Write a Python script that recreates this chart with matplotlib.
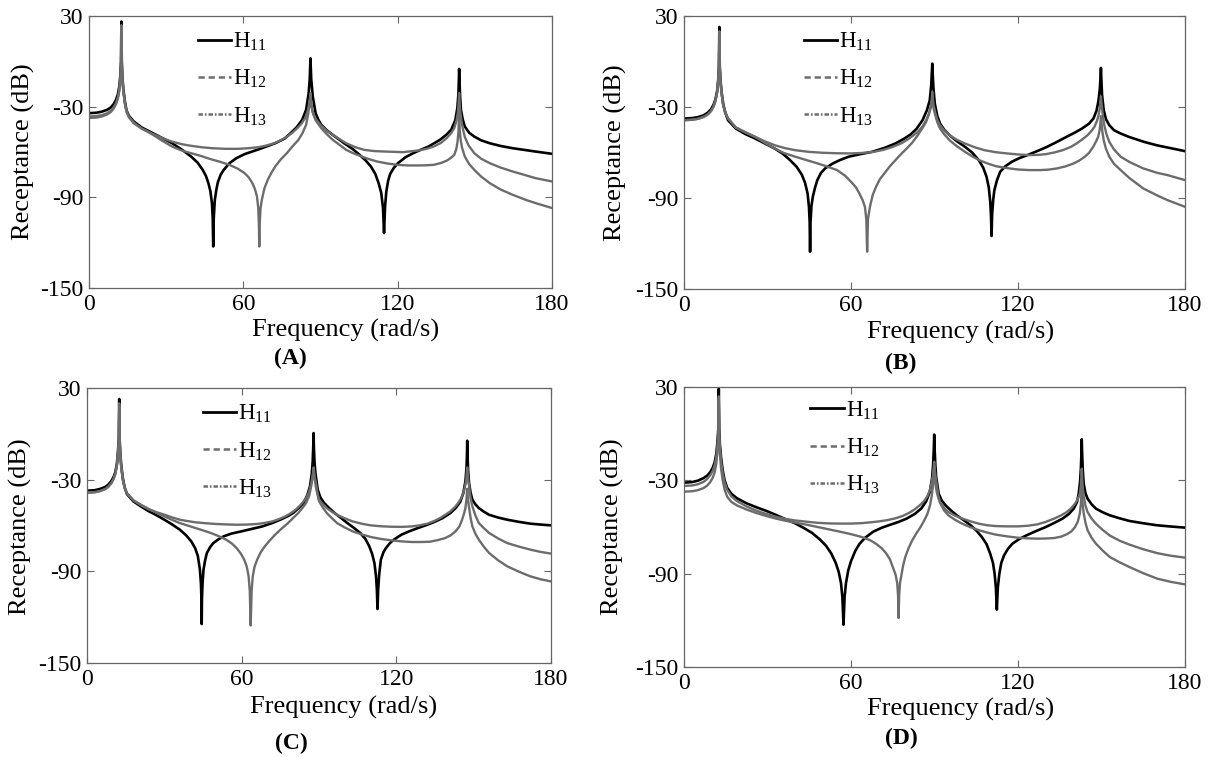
import matplotlib
matplotlib.use("Agg")
import matplotlib.pyplot as plt
from matplotlib.lines import Line2D

plt.rcParams['font.family'] = ['Liberation Serif', 'DejaVu Serif']
plt.rcParams['mathtext.fontset'] = 'custom'
plt.rcParams['mathtext.rm'] = 'Liberation Serif'
plt.rcParams['mathtext.it'] = 'Liberation Serif:italic'
plt.rcParams['axes.unicode_minus'] = False
plt.rcParams['lines.scale_dashes'] = False

# ======================= data =======================
# ---------- Panel A ----------
fA_h11 = [0, 3, 5, 7, 8.5, 9.6, 10.5, 11.2, 11.8, 12.2, 12.45, 12.6, 12.75, 13.0, 13.4, 14.0, 14.6, 15.5, 17.4, 20.5,
          24.8, 28.5, 32.3, 36, 39.7, 42.2, 44.2, 45.5, 46.4, 47.2, 47.8, 48.1, 48.3, 48.5, 48.9, 49.5, 50.1, 51.2, 52.4,
          54.6, 57.2, 60.5, 66.5, 72.4, 76, 78.4, 80.8, 82.9, 84.4, 85.4, 85.8, 86.0, 86.1, 86.2, 86.4, 87.0, 88.1, 89.2,
          90.3, 92.5, 94.8, 99.2, 102.5, 105.2, 107.5, 109.6, 111.3, 112.6, 113.6, 114.3, 114.7, 115.1, 115.6, 116.3,
          117.1, 118.5, 120.1, 123, 126, 129, 132, 136.4, 139, 140.8, 142.4, 143.2, 143.6, 143.8, 143.9, 144.05, 144.3,
          144.6, 145.3, 146.1, 147.8, 149.8, 152.5, 155.8, 160, 164.7, 170, 173.6, 180]
dA_h11 = [-34.3, -34.0, -33.3, -32.1, -30.5, -28.3, -25.5, -22, -16.5, -9, 0, 26.3, 0, -11, -19, -27, -32.5, -36, -39.8, -43.8,
          -47.5, -50.8, -54.2, -58.3, -63, -67, -71.8, -76, -80.5, -86, -94, -104, -122.5, -104, -92, -85, -80, -75, -71.8,
          -67.4, -64.2, -61.4, -57.9, -54.2, -51.2, -47.5, -43.5, -38.7, -32.1, -21.1, -12, -3, 2.0, -3, -12, -23.3, -34.3, -38.8,
          -42, -45.7, -48.7, -54.2, -58, -61.9, -65.5, -69.6, -74.5, -80.6, -87, -97, -113.6, -96, -86, -79,
          -74.5, -70.5, -67.4, -63.5, -60.8, -58.5, -56.4, -52, -48.5, -45.3, -39, -31, -22, -12, -5.0, -14, -24,
          -32.1, -38.5, -43.1, -47.3, -49.8, -52.3, -54.2, -56, -57.5, -58.8, -59.7, -61.2]

fA_h12 = [0, 3, 5, 7, 8.5, 9.6, 10.5, 11.2, 11.8, 12.2, 12.45, 12.6, 12.75, 13.0, 13.4, 14.0, 14.6, 15.5, 17.4, 20.5,
          24.8, 28.5, 32.3, 36, 39.7, 43.5, 47.2, 51, 54.6, 57.8, 60.5, 62.2, 63.5, 64.5, 65.3, 65.8, 66.05, 66.2, 66.35,
          66.7, 67.2, 68.2, 69.5, 71, 72.4, 74.5, 76.9, 79, 81.4, 83, 84.4, 85.2, 85.7, 86.0, 86.1, 86.2, 86.5, 87.0, 88.1,
          90.3, 92.5, 94.8, 97.5, 100, 103.5, 107, 111, 115, 122, 128, 131, 134, 136.8, 139, 140.8, 142, 142.9, 143.4,
          143.7, 143.9, 144.1, 144.4, 144.8, 145.4, 146.1, 147.5, 149.8, 152.5, 155.8, 160, 164.7, 170, 173.6, 180]
dA_h12 = [-36.5, -36.2, -35.6, -34.4, -32.7, -30.4, -27.5, -24, -18.5, -11, -2, 24, -2, -12, -20, -28, -33, -36.5, -40.5, -44.5,
          -48.5, -52.6, -56.4, -59, -60.8, -62.6, -64.7, -66.5, -68.5, -71, -74, -77, -80.6, -84.5, -89.4, -97, -108, -122.5, -108,
          -97, -91.6, -84, -78.4, -73.5, -69.6, -65, -60.8, -56.5, -52, -47.5, -42, -35, -28, -24, -21, -24, -30, -34, -38,
          -42.7, -46, -48.7, -51.6, -54.2, -56.8, -58.6, -59.4, -59.7, -60.1, -59, -58, -56.4, -54, -50.9, -47.5, -44.2, -39, -34,
          -28, -21, -28, -34, -39.5, -45, -50, -55.5, -60.8, -64.5, -67.4, -70.3, -72.9, -75.5, -77.3, -79.5]

fA_h13 = [0, 3, 5, 7, 8.5, 9.6, 10.5, 11.2, 11.8, 12.2, 12.45, 12.6, 12.75, 13.0, 13.4, 14.0, 14.6, 15.5, 17.4, 20.5,
          24.8, 28.5, 32, 36, 40, 44, 48, 53, 58, 62, 66, 69, 72, 74.5, 77, 79, 81, 82.7, 84, 85, 85.6, 85.95, 86.1, 86.25,
          86.6, 87.2, 88.1, 90.3, 92.5, 94.8, 97.5, 100, 103, 106, 109, 112, 116, 120, 124, 128, 131, 134, 136.8, 139,
          140.8, 142, 142.8, 143.3, 143.65, 143.9, 144.15, 144.5, 145, 146.1, 147.8, 149.8, 152.5, 155.8, 160, 164.7, 170,
          173.6, 180]
dA_h13 = [-37.5, -37.2, -36.5, -35.2, -33.5, -31.2, -28.3, -25, -19.5, -12, -3, 22, -3, -13, -21, -28.5, -33.5, -37, -41, -44.5,
          -48, -50.8, -53, -54.8, -56, -56.9, -57.5, -57.9, -57.9, -57.5, -56.8, -55.7, -54.2, -52.3, -49.8, -47.3, -44.2, -41, -37.6, -33, -28, -24, -22, -25,
          -30, -35, -39, -44.2, -48.3, -52, -55.4, -58.6, -61, -63, -64.8, -66.3, -67.6, -68.5, -68.9, -68.9, -68.8, -68.5, -67.3, -65.8,
          -63.8, -61.9, -58, -53, -46, -34, -46, -52, -57, -63, -68, -71.8, -76.3, -80.6, -84.8, -88.3, -91.8,
          -93.8, -97.1]

# ---------- Panel B ----------
fB_h11 = [0, 3, 5, 7, 8.5, 9.7, 10.6, 11.3, 11.9, 12.3, 12.55, 12.7, 12.85, 13.1, 13.5, 14.1, 14.8, 15.8, 18.6, 22,
          25.6, 29, 32.6, 35.5, 38.1, 40.5, 42.3, 43.5, 44.4, 44.9, 45.15, 45.3, 45.45, 45.8, 46.3, 47.1, 47.9, 49.2, 50.7,
          53.5, 56, 59.1, 63, 67.5, 72, 75.9, 79, 81.5, 83.5, 85.7, 87.3, 88.3, 88.8, 89.05, 89.2, 89.35, 89.6, 90.1, 91,
          92, 93.5, 95.4, 98, 101, 103.5, 105.9, 107.5, 108.7, 109.5, 110.05, 110.3, 110.5, 110.7, 111.1, 111.5, 112.4,
          113.6, 115.5, 117.8, 120.5, 123.4, 127, 130.4, 134, 137.4, 140.5, 143, 145.5, 147.1, 148.2, 148.9, 149.4, 149.65,
          149.8, 149.95, 150.2, 150.8, 151.6, 152.8, 154.5, 156.9, 160, 165.3, 170, 173.7, 180]
dB_h11 = [-37.6, -37.3, -36.7, -35.5, -33.8, -31.5, -28.5, -25, -19.5, -12, -3, 22.8, -3, -12, -20, -28, -33.5, -38.7, -44.2, -47.8,
          -50.8, -54, -57.4, -60.8, -65, -69.5, -74.5, -80, -87, -96, -106, -125.4, -106, -95, -89, -83, -78.2, -73.5, -70.5,
          -67.2, -65, -62.8, -61.2, -59.6, -57, -54.1, -51, -48, -44.5, -38.7, -32, -25.5, -16, -7, -1.4, -8, -17, -27.7, -36,
          -40.9, -45, -48.6, -52.5, -56.3, -60, -65, -70, -76, -83, -93, -102, -115.1, -101, -91, -85, -78.5,
          -72.7, -69, -66.1, -63.7, -61.7, -59, -56.3, -53, -49.7, -46.8, -44.2, -41, -37.6, -32.5, -26, -18, -10,
          -4.2, -12, -22, -32.1, -38, -42, -45.3, -47.5, -49.8, -53, -55.3, -56.7, -59.1]

fB_h12 = [0, 3, 5, 7, 8.5, 9.7, 10.6, 11.3, 11.9, 12.3, 12.55, 12.7, 12.85, 13.1, 13.5, 14.1, 14.8, 15.8, 18.6, 22,
          25.6, 29, 32.6, 36, 40, 44, 48, 51.5, 55, 58, 60, 61.8, 63, 64.2, 65, 65.5, 65.8, 66.1, 66.8, 67.8, 69, 70.4, 72,
          74, 76, 78, 80, 82, 84, 85.8, 87, 88, 88.7, 89.05, 89.2, 89.35, 89.7, 90.3, 91, 92, 93.5, 95.4, 98, 101, 104.5,
          108, 112, 116, 120, 124, 127, 130, 133, 136, 139, 141, 143, 145, 146.5, 147.5, 148.4, 149, 149.45, 149.8, 150.15,
          150.5, 151, 151.8, 152.8, 154.5, 156.9, 160, 165, 170, 173.7, 180]
dB_h12 = [-38.7, -38.4, -37.8, -36.6, -35, -32.7, -29.8, -26, -20.5, -13, -4, 20, -4, -13, -21, -29, -33.5, -37.5, -43.5, -46.5,
          -49.7, -53.6, -57.4, -60.4, -62.8, -65, -67.2, -69.3, -71.6, -75.5, -79.3, -83, -87, -91.5, -95.8, -104, -125.4, -104, -95.8, -88, -82.6, -77.5, -73.8,
          -69, -65, -61, -57.4, -53.5, -48.6, -43.5, -39.8, -34.5, -29, -24, -20, -24, -29, -34, -38.5, -42, -45.5, -48.6, -51.6, -54.1, -56.6,
          -58.5, -59.8, -60.6, -61.3, -61.7, -61.6, -61.1, -60, -58.5, -56.3, -54.1, -51.5, -48.6, -45.5, -43, -39, -35, -30, -23, -30,
          -36, -42, -48, -53, -58, -62.8, -66.2, -70.5, -73.4, -74.9, -78.2]

fB_h13 = [0, 3, 5, 7, 8.5, 9.7, 10.6, 11.3, 11.9, 12.3, 12.55, 12.7, 12.85, 13.1, 13.5, 14.1, 14.8, 15.8, 18.6, 22,
          25.6, 29, 32.6, 36, 40, 45, 50, 55, 60, 64, 68, 71.5, 75, 78, 80, 82.2, 84, 85.7, 87, 88, 88.6, 89.0, 89.2, 89.4,
          89.8, 90.3, 91, 92, 93.5, 95.4, 98, 101, 103.5, 106, 109, 112, 116, 120, 124, 128, 131, 134, 137, 140, 142, 144,
          145.5, 147, 148.1, 148.8, 149.3, 149.6, 149.8, 150, 150.3, 150.8, 151.6, 152.8, 154.5, 156.9, 160, 165, 170, 173.7, 180]
dB_h13 = [-38.7, -38.4, -37.8, -36.6, -35, -32.7, -29.8, -26, -20.5, -13, -4, 18, -4, -13, -21, -29, -33.5, -37.5, -43.5, -46.8,
          -49.7, -52.6, -55.2, -57, -58.5, -59.6, -60.2, -60.5, -60.6, -60.3, -59.6, -58.3, -56.3, -54, -51.9, -49, -46.4, -42.8, -38.7, -34.5, -31, -27.5, -25, -28,
          -32, -35.5, -40, -44.2, -48, -51.9, -55.8, -59.6, -62.5, -65, -67.2, -69, -70.3, -71.2, -71.6, -71.6, -71.3, -70.5, -69.2, -67.2, -65.3, -62.8,
          -60.3, -56.3, -52.5, -49.7, -45.5, -41, -36, -41, -46, -52, -57.5, -62.8, -67.5, -71.6, -76.8, -83.7, -88.3, -91.4, -95.8]

# ---------- Panel C ----------
fC_h11 = [0, 3, 5, 7, 8.3, 9.4, 10.3, 11.0, 11.6, 12.0, 12.35, 12.5, 12.65, 12.9, 13.3, 13.9, 14.6, 15.5, 18, 21, 24,
          27, 30, 33, 36, 38.5, 40.5, 42, 43, 43.8, 44.2, 44.4, 44.5, 44.6, 44.85, 45.2, 45.8, 46.5, 47.7, 49, 51, 53, 56,
          60, 64, 68, 72, 75, 78, 80, 82.2, 84, 85.5, 86.5, 87.2, 87.55, 87.78, 87.9, 88.0, 88.25, 88.6, 89.5, 90.5, 92, 94,
          96, 98.5, 101, 103.5, 106, 108, 109.5, 110.6, 111.5, 112.1, 112.45, 112.7, 112.95, 113.35, 114, 115, 116, 117.5,
          119, 122, 125, 128.5, 132, 135, 138, 141, 143, 144.8, 146, 146.8, 147.2, 147.4, 147.5, 147.62, 147.85, 148.2,
          148.8, 149.5, 150.7, 152, 154, 156, 159.5, 163, 167.5, 172, 176, 180]
dC_h11 = [-37.2, -36.9, -36.1, -34.8, -33.2, -31, -28.3, -25, -19.5, -12, -3, 22.8, -3, -12, -21, -29, -35, -39.5, -44.2, -47.6, -50.7,
          -53.3, -56.2, -59.3, -62.7, -66.5, -70.5, -75, -80, -88.9, -98, -108, -124.5, -108, -97, -88.9, -83, -78, -74.3, -71.5, -69, -67.1, -65.3,
          -63.8, -62.2, -60.6, -58.3, -56.2, -53.8, -51.8, -48.5, -45.3, -40, -34.4, -26, -18, -8, 0.5, -8, -18, -25.6, -36.5, -41.5, -45.3, -48.7,
          -51.8, -55, -58.4, -61.5, -64.9, -68.8, -73.6, -78.5, -84.6, -93, -102, -114.7, -102, -92, -82.4, -77.5, -74.7, -71.5,
          -69.3, -66, -63.8, -61.6, -59.5, -57.5, -55.1, -51.8, -48.6, -44.5, -38.7, -31, -23, -14, -4.5, -14, -24, -32.2,
          -38.5, -43.1, -46.2, -48.6, -51, -53, -54.8, -56.2, -57.6, -58.8, -59.4, -59.9]

fC_h12 = [0, 3, 5, 7, 8.3, 9.4, 10.3, 11.0, 11.6, 12.0, 12.35, 12.5, 12.65, 12.9, 13.3, 13.9, 14.6, 15.5, 18, 21, 24,
          27, 30, 33, 36, 39, 42, 45, 48, 51, 54, 56.2, 58, 59.6, 61, 62, 62.7, 63.15, 63.5, 63.85, 64.3, 65, 66, 67.4, 69,
          71, 73, 75.5, 78, 80, 82, 83.6, 85, 86.2, 87, 87.5, 87.9, 88.3, 88.8, 89.4, 90, 91.5, 93, 95, 97, 100, 103, 106.5,
          110, 114, 118, 122, 126, 129, 132, 134.5, 137, 139, 141, 142.8, 144, 145.2, 146, 146.7, 147.1, 147.5, 147.9,
          148.3, 148.8, 149.5, 150.7, 152, 154, 156, 159.5, 163, 167.5, 172, 176, 180]
dC_h12 = [-38.5, -38.2, -37.5, -36.2, -34.6, -32.4, -29.6, -26.2, -20.6, -13, -4, 20, -4, -13, -22, -30, -35.5, -39, -43.5, -46.5, -49.2,
          -51.7, -54, -56.3, -58.4, -60, -61.6, -63.2, -64.9, -66.9, -69.3, -71.8, -74.7, -78.2, -82.4, -87, -93.3, -103, -125.4, -103, -93.3, -87, -82.4, -77.5, -73.6,
          -69.6, -66, -62, -58.4, -55, -51.8, -48.5, -45.3, -40.5, -34, -28.5, -22, -28.5, -32, -38.5, -43.1, -46, -48.6, -51, -53, -55.3, -57.3, -58.8,
          -59.9, -60.5, -60.8, -60.9, -60.6, -59.9, -58.8, -57.2, -55.1, -53, -50.7, -47.8, -45.3, -42, -38.7, -34, -30, -22, -30,
          -35, -42, -47.5, -53.5, -58.4, -61.8, -64.9, -68.5, -71.5, -73.8, -75.8, -77.3, -78.4]

fC_h13 = [0, 3, 5, 7, 8.3, 9.4, 10.3, 11.0, 11.6, 12.0, 12.35, 12.5, 12.65, 12.9, 13.3, 13.9, 14.6, 15.5, 18, 21, 24,
          27, 30, 33, 36, 39, 42, 46, 50, 54, 58, 62, 66, 69, 72, 74.5, 77, 79, 81, 82.6, 84, 85.2, 86, 86.8, 87.3, 87.6,
          87.9, 88.2, 88.8, 90, 91.5, 93, 95, 97, 100, 103, 106.5, 110, 114, 118, 122, 126, 130, 133, 136, 139, 141, 143,
          144.5, 145.5, 146.3, 146.8, 147.2, 147.5, 147.8, 148.2, 148.8, 149.5, 150.7, 152, 154, 156, 159.5, 163, 167.5,
          172, 176, 180]
dC_h13 = [-38.5, -38.2, -37.5, -36.2, -34.6, -32.4, -29.6, -26.2, -20.6, -13, -5, 18, -5, -14, -22, -30, -35.5, -39, -43.5, -46.8, -49.5,
          -51.3, -52.9, -54.7, -56.2, -57.1, -57.9, -58.5, -59, -59.3, -59.5, -59.4, -59, -58.3, -57.3, -55.8, -54, -52, -49.6, -47, -44.2, -41.5, -38.7, -34, -30, -27,
          -24, -28, -35, -44, -48.3, -51.8, -55.2, -58.4, -61.3, -63.8, -65.8, -67.5, -68.8, -69.7, -70.4, -70.8, -70.8, -70.6, -69.6, -68.2, -66.5, -63.8,
          -60.5, -56.2, -52, -48.6, -43, -36, -43, -48, -55, -60.6, -65.5, -69.3, -74, -78, -82.8, -86.7, -90.2,
          -93.3, -95.2, -96.6]

# ---------- Panel D ----------
fD_h11 = [0, 3, 5, 7, 8.3, 9.4, 10.3, 11.0, 11.6, 12.0, 12.35, 12.5, 12.65, 12.9, 13.3, 13.9, 14.6, 15.5, 17, 19, 22.5,
          26, 29.5, 33, 36.5, 40, 43, 46, 48.7, 51, 52.9, 54.5, 55.6, 56.4, 56.9, 57.3, 57.7, 58.2, 59, 60, 61.5, 63, 65,
          68, 71, 74, 77, 80, 83, 85.3, 87, 88.3, 89.1, 89.5, 89.75, 89.9, 90.05, 90.3, 90.6, 91.5, 92.6, 94, 96, 98,
          100.5, 103, 105, 107, 108.7, 110, 111, 111.6, 112.05, 112.4, 112.75, 113.3, 114, 115, 116.4, 118, 120.5, 123,
          126.5, 130, 133, 136, 138.3, 140, 141.2, 141.8, 142.3, 142.6, 142.78, 142.9, 143.05, 143.3, 143.6, 144.2, 145,
          146.5, 148, 150.5, 153, 156.5, 160, 165, 170, 175, 180]
dD_h11 = [-31.5, -31.1, -30.2, -28.6, -27, -24.8, -22, -18.5, -13, -5.5, 3.5, 28.9, 3.5, -7, -15, -23.6, -30, -34.8, -38.6, -41.5, -44.8,
          -47.3, -49.6, -52.2, -55, -57.7, -60.6, -63.8, -67.8, -72, -77, -83, -89, -96, -105, -122.8, -105, -96, -88, -82, -75.5, -71, -67,
          -63, -60.5, -58.6, -56.8, -54.6, -51.5, -48, -43.5, -37.5, -29, -20, -10, -0.6, -10, -20, -27.9, -38.6, -43, -46.1, -49.5, -52.5,
          -55.6, -58.9, -62.2, -66.4, -71, -77.1, -83, -90, -99, -113.1, -99, -90, -83, -78.2, -74, -70.7, -67.7, -65.4,
          -62.6, -60, -57.4, -54.6, -51.6, -48.2, -44, -38.6, -31, -22, -13, -3.6, -13, -24, -32.1, -38, -41.8,
          -45.5, -48.2, -50.6, -52.5, -54.4, -56.1, -57.6, -58.9, -59.7, -60.4]

fD_h12 = [0, 3, 5, 7, 8.3, 9.4, 10.3, 11.0, 11.6, 12.0, 12.35, 12.5, 12.65, 12.9, 13.3, 13.9, 14.6, 15.5, 17, 19, 22.5,
          26, 29.5, 33, 36.5, 40, 44, 48, 52, 56, 60, 64, 67, 69, 71, 72.5, 74, 75, 76, 76.6, 76.9, 77.1, 77.3, 77.6, 78,
          78.7, 79.5, 80.7, 82, 83.5, 85, 86.4, 87.5, 88.4, 89, 89.4, 89.7, 89.9, 90.1, 90.4, 90.8, 91.4, 92, 93.5, 95,
          97.5, 100, 103, 106, 109, 112, 116, 120, 123.5, 127, 130, 133, 135.5, 137.5, 139.2, 140.5, 141.5, 142.2, 142.6,
          142.9, 143.2, 143.6, 144.2, 145, 146.4, 148, 150.5, 153, 156.5, 160, 165, 170, 175, 180]
dD_h12 = [-37.3, -37, -36.3, -35, -33.4, -31.2, -28.4, -25, -19.5, -12, -3, 24, -3, -13, -22, -30, -36, -40.5, -43.8, -46.1, -48.8,
          -51, -52.9, -54.6, -56, -57.2, -58.5, -60, -61.5, -63, -64.6, -66.5, -68.6, -70.8, -73.6, -76.6, -80.8, -85.7, -90.5, -96, -104, -118.5, -104, -96, -92.1,
          -85, -79.3, -73.5, -68.6, -64, -60, -55.5, -51.4, -46, -40, -34, -27, -21, -27, -33, -37.5, -41.5, -44, -47.8, -50.4,
          -52.8, -54.6, -56.4, -57.9, -58.9, -59.4, -59.6, -59.6, -59.2, -58.3, -56.7, -54.6, -52.5, -50.4, -47.8, -45, -42, -38.6, -33,
          -22.5, -33, -40, -46, -50.4, -54.5, -57.9, -62, -65.5, -68.8, -71.3, -74.3, -76.8, -78.5, -79.7]

fD_h13 = [0, 3, 5, 7, 8.3, 9.4, 10.3, 11.0, 11.6, 12.0, 12.35, 12.5, 12.65, 12.9, 13.3, 13.9, 14.6, 15.5, 17, 19, 22.5,
          26, 29.5, 33, 36.5, 40, 44, 48, 52, 56, 60, 64, 67, 70, 73, 76, 78.6, 81, 83, 85, 86.4, 87.5, 88.3, 88.9, 89.4,
          89.7, 89.9, 90.1, 90.4, 90.8, 91.4, 92, 93.5, 95, 97.5, 100, 103, 106, 109, 112, 116, 120, 123.5, 127, 130, 133,
          135.5, 137.5, 139.2, 140.5, 141.5, 142.2, 142.6, 142.9, 143.2, 143.6, 144.2, 145, 146.4, 148, 150.5, 153, 156.5,
          160, 165, 170, 175, 180]
dD_h13 = [-33.6, -33.3, -32.5, -31, -29.2, -26.8, -24, -20.5, -15, -8, 0, 22, 0, -9, -17, -25.5, -31.5, -36, -40.3, -43.3, -46.8,
          -49.5, -51.6, -53.4, -54.8, -55.8, -56.6, -57.3, -57.7, -57.8, -57.8, -57.5, -57, -56.4, -55.6, -54.4, -52.9, -50.8, -48.5, -45.6, -43, -40, -36.5, -32, -27,
          -22, -18, -23, -28, -33, -40, -44.5, -49.5, -52.5, -55.5, -57.9, -60.2, -62.1, -63.6, -64.9, -66, -66.9, -67.3, -67.5, -67.4, -67.1,
          -66.2, -64.7, -62.8, -60, -56.5, -51.4, -45, -35, -45, -51, -57, -62.1, -66.8, -70.7, -75.3, -79.3, -82.7,
          -85.7, -89.7, -93.2, -95.3, -96.9]

panel_names = ['(A)', '(B)', '(C)', '(D)']
legend_labels = [r'$\mathrm{H}_{11}$', r'$\mathrm{H}_{12}$', r'$\mathrm{H}_{13}$']
x_ticks = [0, 60, 120, 180]
y_ticks = [-150, -90, -30, 30]

panels = [
    (fA_h11, dA_h11, fA_h12, dA_h12, fA_h13, dA_h13),
    (fB_h11, dB_h11, fB_h12, dB_h12, fB_h13, dB_h13),
    (fC_h11, dC_h11, fC_h12, dC_h12, fC_h13, dC_h13),
    (fD_h11, dD_h11, fD_h12, dD_h12, fD_h13, dD_h13),
]

# ======================= layout / style =======================
W, H = 1209, 757
boxes = [  # left, top, right, bottom (pixels)
    (89, 16, 552, 288),
    (684, 16, 1185, 289),
    (87, 388, 551, 663),
    (684, 387, 1185, 667),
]
leg_anchor = [(0.225, 0.962), (0.23, 0.962), (0.24, 0.962), (0.243, 0.972)]
xlabel_pos = [(0.555, -0.112), (0.553, -0.118), (0.552, -0.118), (0.553, -0.111)]
ylabel_pos = [(-0.117, 0.5), (-0.114, 0.5), (-0.119, 0.495), (-0.119, 0.5)]
tag_pos = [(290, 358), (901, 363), (291, 743), (901, 738)]

BLACK = '#000000'
GRAY = '#6c6c6c'
EDGE = '#666666'

fig = plt.figure(figsize=(W / 100, H / 100), dpi=100)

for i, (data, box) in enumerate(zip(panels, boxes)):
    l, t, r, b = box
    ax = fig.add_axes([l / W, 1 - b / H, (r - l) / W, (b - t) / H])
    f1, d1, f2, d2, f3, d3 = data
    ax.plot(f1, d1, color=BLACK, lw=1.9)
    ax.plot(f2, d2, color=GRAY, lw=1.7)
    ax.plot(f3, d3, color=GRAY, lw=1.7)

    ax.set_xlim(0, 180)
    ax.set_ylim(-150, 30)
    ax.set_xticks(x_ticks)
    ax.set_yticks(y_ticks)
    ax.tick_params(direction='in', top=True, right=True, length=5, width=0.8,
                   color=EDGE, labelsize=17, pad=4)
    for s in ax.spines.values():
        s.set_color(EDGE)
        s.set_linewidth(0.9)

    ax.set_xlabel('Frequency (rad/s)', fontsize=19)
    ax.set_ylabel('Receptance (dB)', fontsize=19)
    ax.xaxis.set_label_coords(*xlabel_pos[i])
    ax.yaxis.set_label_coords(*ylabel_pos[i])

    handles = [
        Line2D([], [], color=BLACK, lw=2.0),
        Line2D([], [], color=GRAY, lw=1.8, linestyle=(0, (4.5, 2.8))),
        Line2D([], [], color=GRAY, lw=1.8, linestyle=(0, (3.2, 1.4, 1.2, 1.4))),
    ]
    ax.legend(handles, legend_labels, loc='upper left', bbox_to_anchor=leg_anchor[i],
              frameon=False, fontsize=16.5, handlelength=1.45, handletextpad=0.1,
              labelspacing=0.65, borderpad=0.2, borderaxespad=0)

    tx, ty = tag_pos[i]
    fig.text(tx / W, 1 - ty / H, panel_names[i], ha='center', va='center',
             fontsize=17, fontweight='bold')

fig.savefig('out.png', dpi=100)
